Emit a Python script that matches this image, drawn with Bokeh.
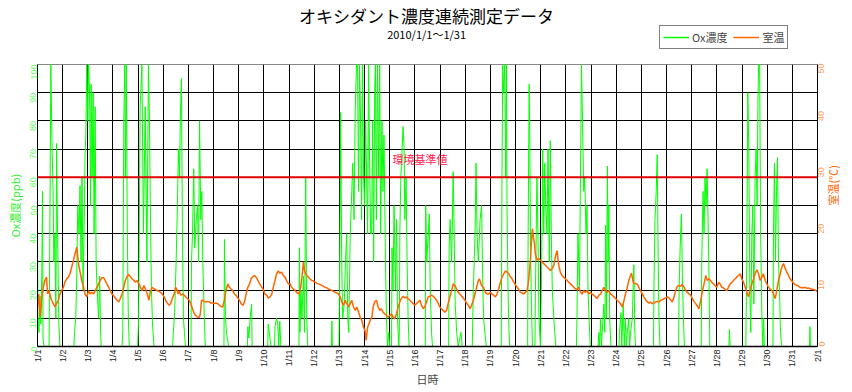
import math
from bokeh.plotting import figure
from bokeh.layouts import column
from bokeh.models import (Range1d, LinearAxis, FixedTicker, Label, Legend, LegendItem,
                          Span, ColumnDataSource)
from bokeh.core.properties import value
from bokeh.embed import file_html
from bokeh.resources import INLINE

# ---------------- data ----------------
TITLE = "オキシダント濃度連続測定データ"
SUBTITLE = "2010/1/1～1/31"
DATE_LABELS = ["1/1", "1/2", "1/3", "1/4", "1/5", "1/6", "1/7", "1/8", "1/9", "1/10",
               "1/11", "1/12", "1/13", "1/14", "1/15", "1/16", "1/17", "1/18", "1/19", "1/20",
               "1/21", "1/22", "1/23", "1/24", "1/25", "1/26", "1/27", "1/28", "1/29", "1/30",
               "1/31", "2/1"]
OX_TICKS = [0, 10, 20, 30, 40, 50, 60, 70, 80, 90, 100]
TEMP_TICKS = [0, 10, 20, 30, 40, 50]
STANDARD_PPB = 60

# Ox concentration (ppb): (days since 1/1 0:00, value)
OX = [
    (0.00, 40), (0.02, 10), (0.06, 5), (0.10, 18), (0.13, 8), (0.17, 25), (0.20, 55), (0.22, 3),
    (0.26, 0), (0.46, 0), (0.49, 40), (0.53, 100), (0.58, 70), (0.62, 55), (0.65, 30), (0.69, 40),
    (0.73, 10), (0.76, 72), (0.79, 45), (0.83, 20), (0.85, 8), (0.89, 0),
    (1.45, 0), (1.47, 5), (1.52, 10), (1.56, 25), (1.60, 50), (1.65, 40), (1.69, 57), (1.73, 30),
    (1.77, 60), (1.81, 20), (1.85, 40), (1.89, 68), (1.92, 75), (1.96, 100), (2.00, 80), (2.03, 100),
    (2.07, 90), (2.11, 50), (2.13, 93), (2.17, 60), (2.21, 90), (2.25, 40), (2.29, 85), (2.33, 30),
    (2.37, 20), (2.43, 10), (2.47, 25), (2.51, 5), (2.53, 0),
    (3.36, 0), (3.39, 5), (3.43, 80), (3.47, 100), (3.49, 60), (3.53, 100), (3.57, 40), (3.61, 10),
    (3.65, 0),
    (3.98, 0), (4.02, 10), (4.08, 85), (4.15, 100), (4.21, 40), (4.28, 85), (4.35, 30), (4.41, 100),
    (4.45, 80), (4.49, 45), (4.53, 20), (4.57, 8), (4.63, 0),
    (5.37, 0), (5.40, 5), (5.45, 12), (5.51, 30), (5.56, 50), (5.60, 70), (5.64, 60), (5.68, 82),
    (5.72, 95), (5.76, 40), (5.80, 10), (5.84, 5), (5.88, 0),
    (6.10, 0), (6.12, 30), (6.16, 40), (6.21, 63), (6.25, 35), (6.31, 45), (6.36, 50), (6.40, 30),
    (6.44, 80), (6.49, 45), (6.53, 55), (6.57, 30), (6.63, 10), (6.67, 0),
    (7.41, 0), (7.43, 38), (7.47, 10), (7.51, 5), (7.56, 2), (7.60, 0),
    (8.34, 0), (8.36, 7), (8.40, 3), (8.45, 10), (8.51, 15), (8.53, 0),
    (9.15, 0), (9.17, 8), (9.24, 3), (9.28, 0), (9.42, 0), (9.44, 7), (9.50, 10), (9.55, 8),
    (9.59, 0), (9.63, 9), (9.67, 0),
    (10.39, 0), (10.41, 35), (10.43, 5), (10.47, 20), (10.51, 10), (10.57, 25), (10.61, 5),
    (10.66, 60), (10.70, 10), (10.74, 0),
    (11.68, 0), (11.70, 9), (11.72, 0),
    (11.98, 0), (12.00, 20), (12.03, 50), (12.05, 83), (12.09, 30), (12.13, 10), (12.19, 15),
    (12.24, 30), (12.29, 40), (12.33, 10), (12.37, 5), (12.43, 40), (12.49, 55), (12.53, 65),
    (12.58, 45), (12.63, 85), (12.68, 100), (12.72, 100), (12.76, 55), (12.80, 100), (12.84, 80),
    (12.88, 45), (12.92, 100), (12.96, 60), (13.00, 50), (13.04, 80), (13.08, 60), (13.12, 40),
    (13.16, 100), (13.20, 65), (13.24, 40), (13.28, 40), (13.32, 80), (13.36, 30), (13.40, 90),
    (13.43, 100), (13.47, 45), (13.51, 100), (13.56, 60), (13.60, 100), (13.64, 40), (13.69, 80),
    (13.73, 55), (13.77, 75), (13.83, 30), (13.87, 10), (13.91, 0), (13.96, 5), (14.00, 0),
    (14.07, 0), (14.09, 35), (14.13, 20), (14.17, 50), (14.23, 20), (14.27, 45), (14.31, 10),
    (14.36, 0), (14.38, 5), (14.40, 40), (14.44, 60), (14.49, 70), (14.53, 78), (14.57, 70),
    (14.60, 45), (14.65, 60), (14.69, 30), (14.73, 10), (14.77, 0),
    (15.41, 0), (15.43, 50), (15.47, 30), (15.53, 40), (15.57, 47), (15.61, 20), (15.66, 5),
    (15.70, 0),
    (16.34, 0), (16.36, 35), (16.40, 45), (16.46, 30), (16.52, 62), (16.56, 40), (16.60, 15),
    (16.66, 5), (16.72, 0), (16.83, 5), (16.88, 0),
    (17.28, 0), (17.32, 20), (17.39, 40), (17.43, 65), (17.47, 40), (17.52, 30), (17.59, 45),
    (17.65, 50), (17.69, 25), (17.73, 10), (17.78, 5), (17.84, 0),
    (18.43, 0), (18.46, 60), (18.49, 100), (18.53, 90), (18.57, 100), (18.61, 60), (18.64, 100),
    (18.66, 50), (18.70, 20), (18.74, 5), (18.77, 0),
    (19.48, 0), (19.50, 40), (19.54, 93), (19.56, 80), (19.59, 40), (19.63, 15), (19.67, 0),
    (19.77, 0), (19.79, 20), (19.85, 60), (19.89, 40), (19.93, 10), (19.99, 0), (20.04, 30),
    (20.08, 70), (20.12, 40), (20.16, 65), (20.20, 50), (20.25, 40), (20.29, 70), (20.34, 30),
    (20.38, 73), (20.42, 40), (20.46, 20), (20.52, 10), (20.56, 5), (20.60, 0),
    (21.42, 0), (21.44, 10), (21.48, 40), (21.54, 20), (21.58, 60), (21.62, 100), (21.66, 80),
    (21.71, 55), (21.75, 60), (21.80, 40), (21.84, 50), (21.88, 20), (21.92, 10), (21.97, 0),
    (22.28, 0), (22.31, 5), (22.34, 0), (22.38, 10), (22.42, 0), (22.44, 5), (22.51, 15),
    (22.55, 5), (22.58, 43), (22.61, 10), (22.65, 64), (22.68, 30), (22.71, 50), (22.74, 10),
    (22.79, 0),
    (23.11, 0), (23.13, 5), (23.19, 12), (23.22, 0), (23.24, 5), (23.28, 15), (23.32, 0),
    (23.37, 10), (23.40, 0), (23.44, 5), (23.50, 10), (23.53, 0), (23.57, 5), (23.64, 10),
    (23.70, 29), (23.74, 5), (23.77, 0),
    (24.48, 0), (24.50, 20), (24.54, 45), (24.59, 55), (24.63, 68), (24.67, 30), (24.70, 10),
    (24.74, 0),
    (25.48, 0), (25.50, 20), (25.54, 35), (25.59, 47), (25.63, 25), (25.67, 10), (25.71, 0),
    (26.38, 0), (26.40, 30), (26.45, 55), (26.49, 40), (26.53, 60), (26.57, 50), (26.61, 63),
    (26.65, 45), (26.68, 30), (26.72, 0),
    (27.48, 0), (27.50, 6), (27.53, 0),
    (28.15, 0), (28.19, 30), (28.23, 90), (28.27, 70), (28.31, 20), (28.35, 5), (28.39, 40),
    (28.43, 50), (28.47, 15), (28.52, 60), (28.56, 70), (28.60, 50), (28.63, 85), (28.66, 100),
    (28.70, 100), (28.74, 40), (28.79, 10), (28.83, 0), (28.86, 10), (28.89, 0),
    (29.23, 0), (29.25, 40), (29.29, 65), (29.33, 30), (29.37, 55), (29.41, 67), (29.45, 30),
    (29.49, 20), (29.53, 5), (29.58, 0),
    (30.68, 0), (30.70, 7), (30.72, 0), (31.00, 0),
]

# Room temperature (deg C): (days since 1/1 0:00, value)
TEMP = [
    (0.00, 7.0), (0.05, 9.3), (0.11, 5.2), (0.16, 8.2), (0.23, 10.5), (0.29, 11.7), (0.36, 12.3),
    (0.40, 9.3), (0.45, 9.9), (0.49, 9.3), (0.56, 8.2), (0.63, 7.6), (0.69, 7.0), (0.76, 7.6),
    (0.83, 8.2), (0.89, 9.3), (0.96, 9.9), (1.03, 10.5), (1.09, 11.4), (1.16, 12.0), (1.23, 12.3),
    (1.29, 12.9), (1.36, 14.1), (1.43, 15.3), (1.49, 16.4), (1.56, 17.6), (1.60, 15.9), (1.65, 14.1),
    (1.71, 12.9), (1.76, 11.7), (1.83, 10.5), (1.89, 9.3), (1.96, 8.8), (2.03, 9.9), (2.09, 9.3),
    (2.16, 9.6), (2.23, 9.3), (2.29, 9.9), (2.36, 10.5), (2.43, 11.1), (2.49, 11.7), (2.56, 12.2),
    (2.63, 12.2), (2.69, 11.7), (2.76, 11.1), (2.83, 10.5), (2.89, 9.9), (2.96, 9.3), (3.03, 9.0),
    (3.09, 8.6), (3.16, 8.2), (3.23, 7.9), (3.29, 8.5), (3.36, 9.3), (3.43, 10.5), (3.49, 11.7),
    (3.56, 12.4), (3.63, 12.8), (3.69, 12.4), (3.76, 12.0), (3.83, 11.7), (3.89, 11.4), (3.96, 11.7),
    (4.03, 11.1), (4.09, 10.5), (4.16, 9.9), (4.23, 10.8), (4.29, 10.2), (4.36, 9.3), (4.43, 8.2),
    (4.49, 9.9), (4.56, 10.5), (4.63, 10.2), (4.69, 10.1), (4.76, 9.9), (4.83, 9.8), (4.89, 9.6),
    (4.96, 9.3), (5.03, 8.8), (5.09, 8.2), (5.16, 7.7), (5.23, 7.3), (5.29, 7.6), (5.36, 8.5),
    (5.43, 9.3), (5.49, 10.5), (5.53, 10.2), (5.59, 9.3), (5.63, 9.9), (5.69, 9.1), (5.76, 9.3),
    (5.83, 9.1), (5.89, 8.8), (5.96, 8.5), (6.03, 8.2), (6.09, 7.6), (6.16, 6.7), (6.23, 5.8),
    (6.29, 5.5), (6.36, 5.2), (6.43, 5.2), (6.47, 5.8), (6.52, 8.2), (6.56, 8.2), (6.63, 8.0),
    (6.69, 7.9), (6.76, 8.0), (6.83, 7.9), (6.89, 7.7), (6.96, 7.7), (7.03, 7.6), (7.09, 7.7),
    (7.16, 7.6), (7.23, 7.3), (7.29, 7.1), (7.36, 7.0), (7.43, 8.2), (7.49, 9.9), (7.56, 11.1),
    (7.63, 10.5), (7.69, 10.2), (7.76, 9.9), (7.83, 9.3), (7.89, 9.1), (7.96, 8.6), (8.03, 8.2),
    (8.09, 7.6), (8.16, 7.3), (8.23, 7.9), (8.29, 9.3), (8.36, 10.5), (8.43, 11.1), (8.49, 12.0),
    (8.56, 12.4), (8.63, 12.6), (8.69, 12.3), (8.76, 11.7), (8.83, 11.1), (8.89, 10.7), (8.96, 10.2),
    (9.04, 9.3), (9.11, 9.1), (9.17, 8.6), (9.24, 8.8), (9.31, 9.3), (9.37, 10.5), (9.44, 11.7),
    (9.50, 12.9), (9.57, 13.4), (9.64, 13.0), (9.70, 13.2), (9.77, 12.6), (9.84, 12.3), (9.90, 11.7),
    (9.97, 11.1), (10.04, 11.1), (10.10, 10.5), (10.17, 10.2), (10.24, 9.9), (10.30, 9.6),
    (10.37, 9.3), (10.41, 9.6), (10.46, 10.5), (10.51, 12.3), (10.57, 15.0), (10.61, 13.5),
    (10.66, 12.9), (10.70, 12.6), (10.77, 12.3), (10.83, 12.0), (10.90, 11.7), (10.97, 11.6),
    (11.03, 11.4), (11.10, 11.2), (11.16, 11.1), (11.23, 11.0), (11.30, 10.8), (11.36, 10.7),
    (11.43, 10.5), (11.50, 10.4), (11.56, 10.2), (11.63, 10.1), (11.70, 9.9), (11.76, 9.8),
    (11.83, 9.6), (11.90, 9.5), (11.96, 9.3), (12.03, 8.8), (12.09, 7.9), (12.16, 7.3), (12.23, 8.2),
    (12.29, 7.6), (12.36, 7.0), (12.43, 7.6), (12.49, 8.2), (12.56, 7.0), (12.63, 6.4), (12.69, 7.0),
    (12.76, 6.1), (12.82, 5.2), (12.89, 4.6), (12.96, 3.4), (13.02, 2.8), (13.06, 1.1), (13.12, 3.4),
    (13.17, 4.0), (13.22, 4.6), (13.29, 5.2), (13.34, 7.0), (13.40, 7.9), (13.47, 8.2), (13.54, 7.0),
    (13.60, 6.4), (13.67, 6.7), (13.73, 6.1), (13.80, 5.8), (13.87, 5.5), (13.93, 5.2), (14.00, 5.5),
    (14.07, 5.8), (14.13, 5.2), (14.20, 4.9), (14.27, 5.8), (14.33, 7.0), (14.40, 7.9), (14.46, 8.5),
    (14.53, 8.9), (14.60, 8.6), (14.66, 8.8), (14.73, 8.5), (14.80, 8.2), (14.86, 7.9), (14.93, 7.6),
    (15.00, 7.3), (15.06, 7.6), (15.13, 7.9), (15.20, 8.2), (15.26, 7.3), (15.33, 6.7), (15.39, 7.0),
    (15.46, 7.9), (15.53, 8.8), (15.59, 8.9), (15.66, 9.1), (15.73, 8.9), (15.79, 8.6), (15.86, 8.2),
    (15.93, 7.6), (15.99, 7.0), (16.06, 6.7), (16.12, 6.4), (16.19, 6.1), (16.26, 6.4), (16.32, 7.6),
    (16.39, 8.8), (16.46, 9.9), (16.52, 11.1), (16.59, 10.8), (16.66, 10.2), (16.72, 9.6),
    (16.79, 9.3), (16.86, 8.9), (16.92, 8.6), (16.99, 8.2), (17.05, 7.7), (17.12, 7.3), (17.19, 6.7),
    (17.25, 7.3), (17.32, 8.2), (17.39, 9.3), (17.45, 10.5), (17.52, 11.7), (17.56, 12.0),
    (17.61, 11.4), (17.65, 10.8), (17.72, 10.5), (17.80, 9.6), (17.87, 9.3), (17.93, 9.3),
    (18.00, 9.6), (18.07, 9.3), (18.13, 9.1), (18.20, 8.8), (18.26, 9.3), (18.33, 10.2), (18.40, 11.4),
    (18.46, 12.3), (18.53, 12.9), (18.60, 13.4), (18.66, 13.2), (18.73, 12.9), (18.79, 12.4),
    (18.86, 12.0), (18.93, 11.4), (18.99, 11.0), (19.06, 10.5), (19.13, 10.1), (19.19, 9.6),
    (19.26, 9.5), (19.32, 9.3), (19.39, 9.6), (19.46, 9.9), (19.52, 11.7), (19.59, 15.3),
    (19.63, 18.5), (19.67, 20.9), (19.71, 19.4), (19.75, 18.2), (19.79, 16.4), (19.85, 15.3),
    (19.92, 15.6), (19.99, 15.3), (20.05, 15.0), (20.12, 14.7), (20.19, 14.4), (20.25, 14.1),
    (20.32, 13.8), (20.38, 13.5), (20.45, 13.8), (20.52, 14.4), (20.58, 15.9), (20.65, 17.0),
    (20.69, 15.3), (20.73, 14.1), (20.78, 13.2), (20.85, 12.6), (20.91, 12.3), (20.98, 12.0),
    (21.05, 11.7), (21.11, 11.4), (21.18, 11.1), (21.25, 10.8), (21.31, 10.5), (21.38, 10.2),
    (21.44, 10.1), (21.51, 10.5), (21.58, 9.6), (21.64, 9.3), (21.71, 9.9), (21.77, 9.6),
    (21.84, 9.9), (21.91, 9.3), (21.97, 9.6), (22.04, 9.3), (22.11, 9.1), (22.17, 8.8), (22.24, 8.5),
    (22.31, 9.1), (22.38, 9.3), (22.44, 9.9), (22.51, 10.5), (22.58, 9.9), (22.64, 9.6), (22.71, 9.9),
    (22.77, 9.3), (22.84, 9.1), (22.91, 8.8), (22.97, 8.5), (23.04, 8.2), (23.11, 7.9), (23.17, 7.6),
    (23.24, 7.0), (23.31, 8.2), (23.37, 9.3), (23.44, 10.5), (23.50, 11.7), (23.57, 12.6),
    (23.61, 13.0), (23.66, 11.7), (23.70, 11.1), (23.77, 11.2), (23.84, 11.0), (23.90, 10.5),
    (23.97, 9.9), (24.04, 9.3), (24.10, 8.8), (24.17, 8.3), (24.24, 7.9), (24.30, 7.7), (24.37, 7.9),
    (24.43, 7.6), (24.50, 7.7), (24.57, 7.9), (24.63, 8.0), (24.70, 7.9), (24.77, 8.2), (24.83, 8.3),
    (24.90, 8.5), (24.97, 8.6), (25.03, 8.8), (25.10, 8.6), (25.16, 8.3), (25.23, 7.9), (25.30, 8.8),
    (25.36, 9.9), (25.43, 10.7), (25.50, 10.8), (25.56, 10.7), (25.63, 11.0), (25.70, 10.5),
    (25.76, 9.9), (25.83, 9.6), (25.90, 9.3), (25.96, 9.1), (26.03, 8.5), (26.09, 8.0), (26.16, 7.6),
    (26.23, 7.1), (26.29, 6.7), (26.36, 8.2), (26.43, 9.9), (26.49, 11.1), (26.56, 12.6),
    (26.62, 11.7), (26.69, 12.0), (26.74, 11.7), (26.80, 11.4), (26.87, 11.1), (26.93, 10.8),
    (27.00, 10.5), (27.07, 11.4), (27.13, 11.1), (27.20, 10.5), (27.26, 10.4), (27.33, 10.1),
    (27.40, 9.9), (27.46, 10.5), (27.53, 11.1), (27.60, 11.4), (27.66, 11.7), (27.73, 12.0),
    (27.79, 12.3), (27.86, 12.6), (27.93, 12.9), (27.99, 12.0), (28.06, 11.4), (28.13, 10.5),
    (28.19, 9.6), (28.26, 8.8), (28.32, 9.9), (28.39, 11.1), (28.46, 12.0), (28.52, 12.9),
    (28.59, 13.6), (28.66, 12.9), (28.72, 11.7), (28.79, 12.3), (28.85, 12.9), (28.92, 11.7),
    (28.99, 11.1), (29.05, 10.5), (29.12, 10.2), (29.19, 9.9), (29.25, 9.3), (29.32, 8.5),
    (29.38, 9.9), (29.45, 11.7), (29.52, 12.9), (29.58, 14.1), (29.65, 14.7), (29.72, 13.8),
    (29.78, 13.2), (29.85, 12.6), (29.91, 12.0), (29.98, 11.6), (30.05, 11.2), (30.11, 11.0),
    (30.18, 10.8), (30.25, 10.7), (30.31, 10.5), (30.38, 10.4), (30.44, 10.4), (30.51, 10.5),
    (30.58, 10.3), (30.64, 10.4), (30.71, 10.2), (30.77, 10.2), (30.84, 10.1), (30.91, 10.0),
    (30.97, 9.8), (31.00, 9.7),
]

# ---------------- styling ----------------
JP = "Noto Sans CJK JP"
GREEN = "#00FF00"
ORANGE = "#FF6600"
W = 852

# ---------------- header (titles + legend) ----------------
head = figure(width=W, height=63, x_range=Range1d(0, W), y_range=Range1d(63, 0),
              output_backend="svg", toolbar_location=None, title=None,
              x_axis_type=None, y_axis_type=None, min_border=0,
              min_border_left=0, min_border_right=0, min_border_top=0, min_border_bottom=0,
              outline_line_color=None)
head.text(x=[425], y=[15], text=[TITLE], text_align="center", text_baseline="middle",
          text_font=value(JP), text_font_size="17px", text_color="black")
head.text(x=[425], y=[33], text=[SUBTITLE], text_align="center", text_baseline="middle",
          text_font=value(JP), text_font_size="11px", text_color="black")
# legend swatches (no data drawn; only their styles are shown in the legend)
lg_ox = head.line(x=[math.nan], y=[math.nan], line_color=GREEN, line_width=1.5)
lg_t = head.line(x=[math.nan], y=[math.nan], line_color=ORANGE, line_width=1.5)
legend = Legend(items=[LegendItem(label="Ox濃度", renderers=[lg_ox]),
                       LegendItem(label="室温", renderers=[lg_t])],
                orientation="horizontal", location=(622, 14),
                border_line_color="black", border_line_width=1.5,
                background_fill_color="white", background_fill_alpha=1.0,
                padding=3, spacing=6, margin=0,
                glyph_width=26, glyph_height=12, label_standoff=3, label_height=12,
                label_width=10, label_text_font=JP, label_text_font_size="11px")
head.add_layout(legend, "center")

# ---------------- main chart ----------------
p = figure(width=W, height=329, x_range=Range1d(0, 31), y_range=Range1d(0, 100),
           output_backend="svg", toolbar_location=None, title=None,
           min_border_left=37, min_border_right=35, min_border_top=1, min_border_bottom=46)
p.extra_y_ranges = {"temp": Range1d(0, 50)}
p.outline_line_color = "#888888"

ox_src = ColumnDataSource(dict(day=[d for d, _ in OX], val=[v for _, v in OX]))
t_src = ColumnDataSource(dict(day=[d for d, _ in TEMP], val=[v for _, v in TEMP]))

p.line("day", "val", source=ox_src, line_color=GREEN, line_width=1)
p.line("day", "val", source=t_src, line_color=ORANGE, line_width=1.5, y_range_name="temp")

p.add_layout(Span(location=STANDARD_PPB, dimension="width", line_color="#E00000", line_width=2))
p.add_layout(Label(x=15.2, y=STANDARD_PPB + 3.5, text="環境基準値", text_align="center",
                   text_baseline="bottom", text_color="#FF2050", text_font=JP,
                   text_font_size="11px"))

# x axis
xa = p.xaxis[0]
xa.ticker = FixedTicker(ticks=list(range(len(DATE_LABELS))))
xa.major_label_overrides = {i: s for i, s in enumerate(DATE_LABELS)}
xa.major_label_orientation = math.pi / 2
xa.major_label_text_font = "Liberation Sans"
xa.major_label_text_font_size = "9px"
xa.major_label_text_color = "#222222"
xa.major_label_standoff = 3
xa.major_tick_out = 0
xa.major_tick_in = 0
xa.minor_tick_line_color = None
xa.axis_label = "日時"
xa.axis_label_text_font = JP
xa.axis_label_text_font_style = "normal"
xa.axis_label_text_font_size = "11px"
xa.axis_label_standoff = 1
xa.axis_line_color = "black"
xa.axis_line_width = 1.5

# left axis
ya = p.yaxis[0]
ya.ticker = FixedTicker(ticks=OX_TICKS)
ya.major_label_orientation = math.pi / 2
ya.major_label_text_font = "Liberation Sans"
ya.major_label_text_font_size = "9px"
ya.major_label_text_color = "#66FF66"
ya.major_label_standoff = 4
ya.major_tick_out = 0
ya.major_tick_in = 0
ya.minor_tick_line_color = None
ya.axis_label = "Ox濃度(ppb)"
ya.axis_label_text_font = JP
ya.axis_label_text_font_style = "normal"
ya.axis_label_text_font_size = "11px"
ya.axis_label_text_color = "#33EE33"
ya.axis_label_standoff = 2
ya.axis_line_color = "black"

# right axis
ra = LinearAxis(y_range_name="temp", ticker=FixedTicker(ticks=TEMP_TICKS))
ra.major_label_orientation = math.pi / 2
ra.major_label_text_font = "Liberation Sans"
ra.major_label_text_font_size = "9px"
ra.major_label_text_color = "#FF9955"
ra.major_label_standoff = 4
ra.major_tick_out = 0
ra.major_tick_in = 0
ra.minor_tick_line_color = None
ra.axis_label = "室温(℃)"
ra.axis_label_text_font = JP
ra.axis_label_text_font_style = "normal"
ra.axis_label_text_font_size = "11px"
ra.axis_label_text_color = "#FF6600"
ra.axis_label_standoff = 2
ra.axis_line_color = "black"
if "axis_label_orientation" in ra.properties():
    ra.axis_label_orientation = math.pi / 2
p.add_layout(ra, "right")

# grids
p.xgrid.ticker = FixedTicker(ticks=list(range(len(DATE_LABELS))))
p.ygrid.ticker = FixedTicker(ticks=OX_TICKS)
for g in (p.xgrid, p.ygrid):
    g.grid_line_color = "black"
    g.grid_line_alpha = 1.0
    g.grid_line_width = 1

layout = column(head, p, spacing=0)
open("out.html", "w").write(file_html(layout, INLINE))
